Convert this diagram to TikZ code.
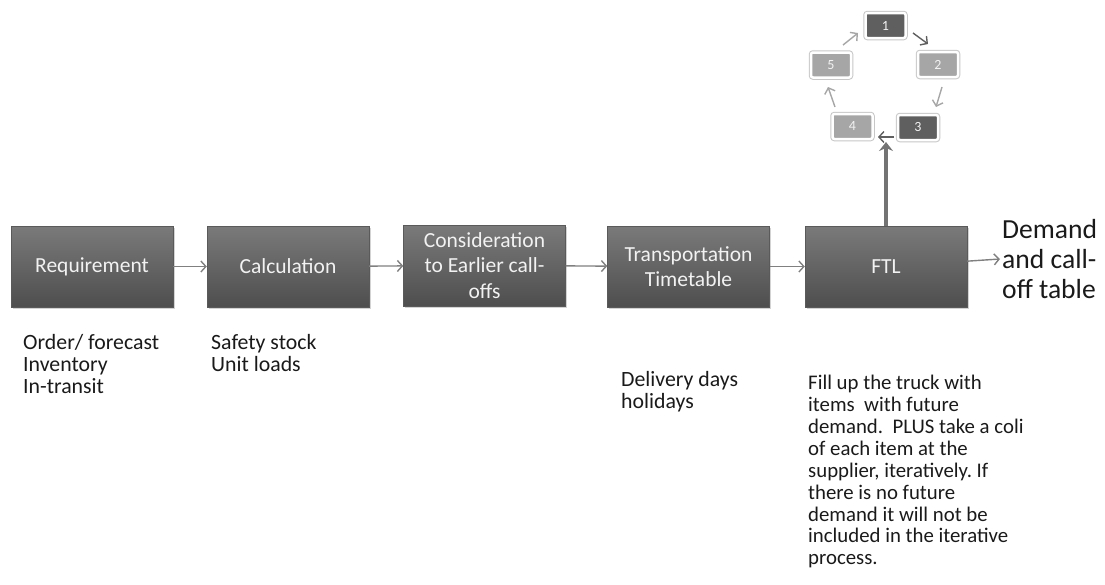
\documentclass[tikz,border=0pt]{standalone}
\usepackage{fontspec}
\setmainfont{Carlito}
\usetikzlibrary{arrows.meta,shadows}
\frenchspacing

\definecolor{boxtop}{HTML}{7A7A7A}
\definecolor{boxbot}{HTML}{4E4E4E}
\definecolor{boxedge}{HTML}{5A5A5A}
\definecolor{boxtext}{HTML}{F2F2F2}
\definecolor{flow}{HTML}{808080}
\definecolor{cycdark}{HTML}{5F5F5F}
\definecolor{cyclight}{HTML}{A6A6A6}
\definecolor{textcol}{HTML}{1A1A1A}

\begin{document}
\begin{tikzpicture}[x=1pt,y=-1pt,
  stepbox/.style={minimum width=162pt, minimum height=81pt, inner sep=2pt,
    top color=boxtop, bottom color=boxbot, draw=boxedge, line width=0.4pt,
    drop shadow={opacity=0.35, shadow xshift=1.5pt, shadow yshift=-2pt},
    text=boxtext, align=center, font=\fontsize{21.5}{25.5}\selectfont},
  cycbox/.style={minimum width=40pt, minimum height=25pt, inner sep=0pt,
    rounded corners=2pt, draw=white, line width=2.5pt,
    preaction={draw=black!22, line width=4.5pt, rounded corners=3pt},
    text=boxtext, font=\fontsize{14}{16}\selectfont},
  flowarrow/.style={draw=flow, line width=1.4pt,
    -{Straight Barb[length=5pt,width=11pt]}},
  cycarrow/.style={line width=1.4pt, -{Straight Barb[length=5pt,width=11pt]}},
  note/.style={anchor=north west, inner sep=0pt, align=left, text=textcol,
    font=\fontsize{21.8}{22}\selectfont}
]
\useasboundingbox (0,0) rectangle (1105,584);

% main process chain
\node[stepbox] (req)   at (92,266.5)    {Requirement};
\node[stepbox] (calc)  at (288,266.5)   {Calculation};
\node[stepbox] (cons)  at (484.5,265.5) {Consideration\\to Earlier call-\\offs};
\node[stepbox] (trans) at (688.5,266.5) {Transportation\\Timetable};
\node[stepbox] (ftl)   at (886,266.5)   {FTL};

\node[anchor=west, inner sep=2pt, align=left, text=textcol,
      font=\fontsize{27.6}{30}\selectfont] (out) at (1000,259)
      {Demand\\and call-\\off table};

\draw[flowarrow] (req)   -- (calc);
\draw[flowarrow] (calc)  -- (cons);
\draw[flowarrow] (cons)  -- (trans);
\draw[flowarrow] (trans) -- (ftl);
\draw[flowarrow] (ftl)   -- (out.west);

% iteration cycle
\node[cycbox, fill=cycdark]  (c1) at (885.5,25.5) {1};
\node[cycbox, fill=cyclight] (c2) at (938,64.5)   {2};
\node[cycbox, fill=cycdark]  (c3) at (918,127.5)  {3};
\node[cycbox, fill=cyclight] (c4) at (852.5,126.5){4};
\node[cycbox, fill=cyclight] (c5) at (831,65)     {5};

\coordinate (a12) at (913,33);  \coordinate (b12) at (928,44);
\coordinate (a23) at (942,87);  \coordinate (b23) at (936,107);
\coordinate (a34) at (894,137); \coordinate (b34) at (878,137);
\coordinate (a45) at (835,107); \coordinate (b45) at (828,87);
\coordinate (a51) at (843,45);  \coordinate (b51) at (858,33);

\draw[cycarrow, draw=cycdark]  (a12) -- (b12);
\draw[cycarrow, draw=cyclight] (a23) -- (b23);
\draw[cycarrow, draw=cycdark]  (a34) -- (b34);
\draw[cycarrow, draw=cyclight] (a45) -- (b45);
\draw[cycarrow, draw=cyclight] (a51) -- (b51);

% FTL feeds the cycle
\coordinate (cyc) at (886,142);
\draw[draw=black!55, line width=4pt, -{Stealth[length=9pt,width=14pt,inset=3pt]}]
  (ftl.north) -- (cyc);

% notes under the steps
\node[note] (n1) at (23,334) {Order/ forecast\\Inventory\\In-transit};
\node[note] (n2) at (211,334) {Safety stock\\Unit loads};
\node[note] (n3) at (621,371) {Delivery days\\holidays};
\node[note, font=\fontsize{20.8}{21.9}\selectfont] (n4) at (808,375)
  {Fill up the truck with\\items\ \ with future\\demand.\ \ PLUS take a coli\\of each item at the\\supplier, iteratively. If\\there is no future\\demand it will not be\\included in the iterative\\process.};
\end{tikzpicture}
\end{document}
